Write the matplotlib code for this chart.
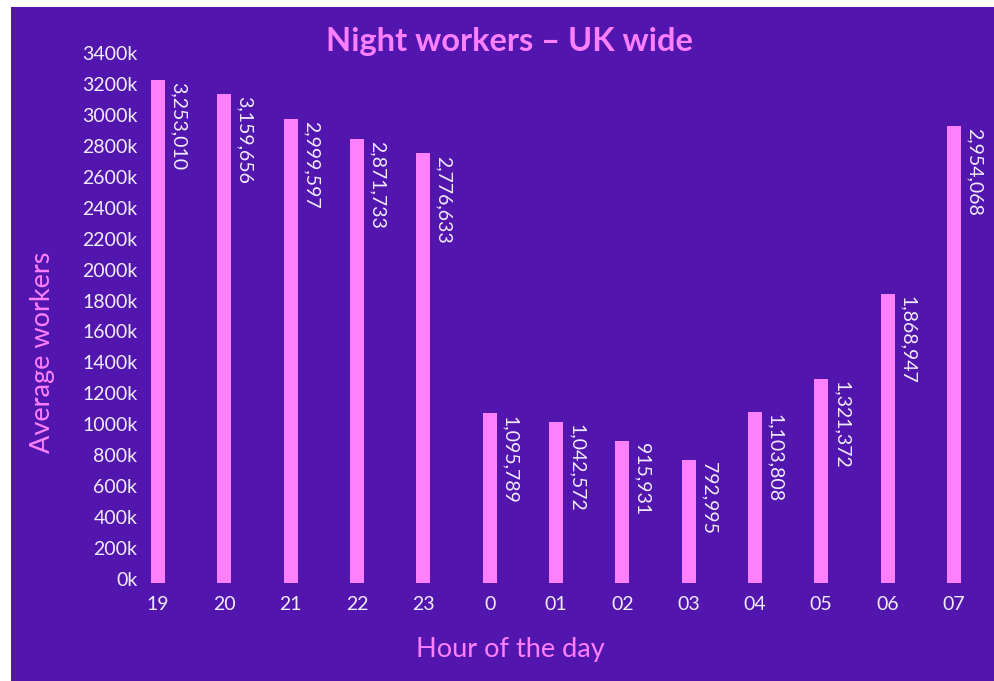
import matplotlib
matplotlib.use("Agg")
import matplotlib.pyplot as plt
from matplotlib.patches import Rectangle
from matplotlib.ticker import FuncFormatter, MultipleLocator
from matplotlib.transforms import ScaledTranslation

hours = ["19", "20", "21", "22", "23", "0", "01", "02", "03", "04", "05", "06", "07"]
workers = [3253010, 3159656, 2999597, 2871733, 2776633, 1095789, 1042572,
           915931, 792995, 1103808, 1321372, 1868947, 2954068]

BG = "#5216AE"
PINK = "#FF80FF"
TXT = "#F2ECFF"
FONT = "Lato"

W, H = 995, 681
fig = plt.figure(figsize=(W / 100, H / 100), dpi=100, facecolor=BG)
# white border strips on left and top
fig.patches.append(Rectangle((0, 0), 11 / W, 1, transform=fig.transFigure,
                             facecolor="white", edgecolor="none", zorder=-10))
fig.patches.append(Rectangle((0, (H - 7) / H), 1, 7 / H, transform=fig.transFigure,
                             facecolor="white", edgecolor="none", zorder=-10))

ax = fig.add_axes([125 / W, (H - 583) / H, (987 - 125) / W, (583 - 57) / H])
ax.set_facecolor("none")
x = list(range(len(hours)))
ax.bar(x, workers, width=0.21, color=PINK, zorder=2)
ax.set_xlim(-0.5, len(hours) - 0.5)
ax.set_ylim(0, 3400000)
ax.yaxis.set_major_locator(MultipleLocator(200000))
ax.yaxis.set_major_formatter(FuncFormatter(lambda v, p: f"{int(round(v / 1000))}k"))
ax.set_xticks(x)
ax.set_xticklabels(hours)
for s in ax.spines.values():
    s.set_visible(False)
ax.tick_params(axis="both", length=0, colors=TXT, labelsize=14)
ax.tick_params(axis="y", pad=-9)
ax.tick_params(axis="x", pad=9)
shift = ScaledTranslation(0, 4 / 100, fig.dpi_scale_trans)
for lab in ax.get_yticklabels():
    lab.set_fontfamily(FONT)
    lab.set_transform(lab.get_transform() + shift)
for lab in ax.get_xticklabels():
    lab.set_fontfamily(FONT)

for xi, v in zip(x, workers):
    ax.annotate(f"{v:,}", xy=(xi, v), xytext=(14.5, -1.5), textcoords="offset points",
                rotation=-90, ha="center", va="top", color=TXT, fontsize=14,
                fontfamily=FONT)

fig.text(509 / W, 1 - 41 / H, "Night workers – UK wide", ha="center", va="center",
         color=PINK, fontsize=23.5, fontweight="bold", fontfamily=FONT)
fig.text(43 / W, 1 - 352 / H, "Average workers", ha="center", va="center",
         rotation=90, color=PINK, fontsize=19.5, fontfamily=FONT)
fig.text(510 / W, 1 - 649 / H, "Hour of the day", ha="center", va="center",
         color=PINK, fontsize=19.5, fontfamily=FONT)

fig.savefig("out.png", dpi=100, facecolor=BG)
